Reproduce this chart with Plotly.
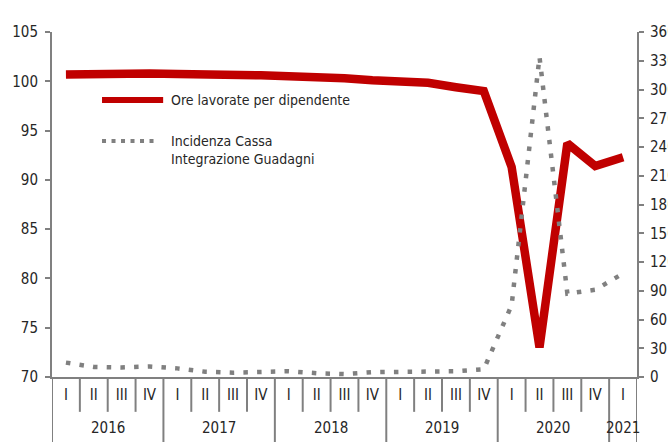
import plotly.graph_objects as go

years = ["2016"] * 4 + ["2017"] * 4 + ["2018"] * 4 + ["2019"] * 4 + ["2020"] * 4 + ["2021"]
quarters = ["I", "II", "III", "IV"] * 5 + ["I"]
categories = [f"{y} {q}" for y, q in zip(years, quarters)]

ore_lavorate = [100.7, 100.8, 100.8, 100.8, 100.75, 100.75, 100.65, 100.6,
                100.5, 100.5, 100.3, 100.1, 100.0, 99.85, 99.4, 99.0,
                91.3, 73.0, 93.7, 91.4, 92.3]
cig = [15, 10.5, 10, 11, 9, 5.5, 4.5, 5.5,
       6, 4, 3, 5, 5, 5, 6, 8,
       75, 334, 87, 91, 108]

year_labels = ["2016", "2017", "2018", "2019", "2020", "2021"]

RED = "#C00000"
GRAY = "#808080"
FONT = "DejaVu Sans Condensed, Liberation Sans Narrow, Arial Narrow, sans-serif"
TXT = "#262626"

fig = go.Figure()
fig.add_trace(go.Scatter(x=categories, y=ore_lavorate, mode="lines",
                         line=dict(color=RED, width=8.5),
                         name="Ore lavorate per dipendente", yaxis="y"))
fig.add_trace(go.Scatter(x=categories, y=cig, mode="lines",
                         line=dict(color=GRAY, width=4.5, dash="4.5px,9.2px"),
                         name="Incidenza Cassa Integrazione Guadagni", yaxis="y2"))

shapes = []
n = len(categories)
for i in range(n + 1):
    b = i - 0.5
    long_line = (i == 0 or i == n or years[i] != years[i - 1])
    shapes.append(dict(type="line", xref="x", yref="paper", x0=b, x1=b,
                       y0=0, y1=-0.25 if long_line else -0.101,
                       line=dict(color=GRAY, width=2)))

# legend samples
shapes.append(dict(type="line", xref="paper", yref="paper", x0=0.0855, x1=0.19,
                   y0=0.803, y1=0.803, line=dict(color=RED, width=6)))
shapes.append(dict(type="line", xref="paper", yref="paper", x0=0.0855, x1=0.181,
                   y0=0.684, y1=0.684, line=dict(color=GRAY, width=4, dash="4px,5.5px")))

annotations = []
for yl in year_labels:
    idx = [i for i, y in enumerate(years) if y == yl]
    annotations.append(dict(x=sum(idx) / len(idx), y=-0.148, xref="x", yref="paper",
                            text=yl, showarrow=False, yanchor="middle", xanchor="center",
                            font=dict(family=FONT, size=15, color=TXT)))
annotations.append(dict(x=0.2, y=0.803, xref="paper", yref="paper",
                        text="Ore lavorate per dipendente", showarrow=False,
                        xanchor="left", yanchor="middle",
                        font=dict(family=FONT, size=14, color=TXT)))
annotations.append(dict(x=0.2, y=0.658, xref="paper", yref="paper",
                        text="Incidenza Cassa<br>Integrazione Guadagni", showarrow=False,
                        xanchor="left", yanchor="middle", align="left",
                        font=dict(family=FONT, size=14, color=TXT)))

fig.update_layout(
    width=668, height=442,
    margin=dict(l=52, r=31, t=32, b=65),
    paper_bgcolor="white", plot_bgcolor="white",
    showlegend=False,
    font=dict(family=FONT, size=15, color=TXT),
    xaxis=dict(type="category", tickvals=categories, ticktext=quarters,
               range=[-0.5, n - 0.5], ticks="", showgrid=False, zeroline=False,
               showline=True, linecolor=GRAY, linewidth=2, ticklabelstandoff=3,
               automargin=False,
               tickfont=dict(family=FONT, size=15, color=TXT)),
    yaxis=dict(range=[70, 105], dtick=5, ticks="outside", ticklen=5, tickcolor=GRAY,
               tickwidth=2, showline=True, linecolor=GRAY, linewidth=2,
               showgrid=False, zeroline=False, ticklabelstandoff=4, automargin=False,
               tickfont=dict(family=FONT, size=15, color=TXT)),
    yaxis2=dict(range=[0, 360], dtick=30, overlaying="y", side="right",
                ticks="outside", ticklen=5, tickcolor=GRAY, tickwidth=2,
                showline=True, linecolor=GRAY, linewidth=2, automargin=False,
                showgrid=False, zeroline=False, ticklabelstandoff=3,
                tickfont=dict(family=FONT, size=15, color=TXT)),
    shapes=shapes,
    annotations=annotations,
)

fig.write_html("out.html", config={"displayModeBar": False},
               post_script="document.body.style.margin='0';document.body.style.overflow='hidden';")
